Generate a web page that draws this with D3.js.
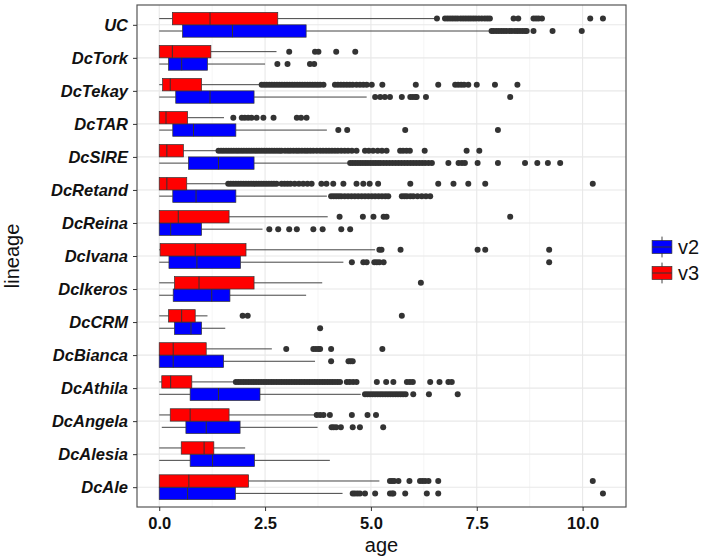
<!DOCTYPE html>
<html><head><meta charset="utf-8">
<script src="https://cdn.jsdelivr.net/npm/d3@7"></script>
<style>body{margin:0;background:#fff}svg{display:block}</style>
</head><body>
<script>
// ---------- DATA ----------
const categories = ["DcAle","DcAlesia","DcAngela","DcAthila","DcBianca","DcCRM","DcIkeros","DcIvana","DcReina","DcRetand","DcSIRE","DcTAR","DcTekay","DcTork","UC"];
const seriesNames = ["v2","v3"];
const xTicks = [0, 2.5, 5, 7.5, 10];
const xTickLabels = ["0.0","2.5","5.0","7.5","10.0"];
const xMinorTicks = [1.25, 3.75, 6.25, 8.75];

// v2 (blue)
const v2Low  = [0, 0, 0.06, 0, 0, 0, 0, 0, 0, 0, 0, 0, 0, 0, 0];
const v2Q1   = [0, 0.73, 0.63, 0.73, 0, 0.36, 0.33, 0.23, 0, 0.32, 0.69, 0.32, 0.39, 0.22, 0.55];
const v2Med  = [0.67, 1.26, 1.11, 1.40, 0.33, 0.75, 1.24, 0.89, 0.27, 0.87, 1.40, 0.81, 1.20, 0.53, 1.73];
const v2Q3   = [1.80, 2.25, 1.91, 2.38, 1.52, 1.00, 1.67, 1.92, 1.00, 1.81, 2.24, 1.81, 2.24, 1.14, 3.47];
const v2High = [4.33, 4.03, 3.74, 4.76, 3.68, 1.56, 3.47, 4.35, 2.44, 3.96, 4.51, 3.96, 4.90, 2.50, 7.85];
const v2Out = [
  [4.57,4.62,4.68,4.74,4.86,5.10,5.45,5.50,5.53,5.81,6.32,6.59,10.48],
  [],
  [4.07,4.12,4.18,4.29,4.57,4.74,5.29],
  [4.86,4.92,4.98,5.04,5.10,5.16,5.22,5.28,5.34,5.40,5.46,5.52,5.58,5.64,5.70,5.76,5.82,6.00,6.37,7.05],
  [4.06,4.47,4.52,4.57],
  [3.80],
  [],
  [4.55,4.82,4.90,5.08,5.14,5.20,5.30,9.21],
  [2.60,2.81,3.07,3.25,3.64,3.86,4.30,4.51],
  [4.06,4.12,4.18,4.24,4.30,4.38,4.46,4.54,4.62,4.70,4.78,4.86,4.94,5.02,5.10,5.18,5.26,5.34,5.41,5.73,5.79,5.85,5.93,6.00,6.10,6.20,6.30,6.40],
  [4.51,4.57,4.63,4.69,4.75,4.81,4.87,4.93,4.99,5.05,5.11,5.17,5.23,5.30,5.37,5.44,5.51,5.58,5.65,5.72,5.79,5.86,5.93,6.00,6.07,6.14,6.21,6.28,6.36,6.44,6.83,7.07,7.15,7.22,7.52,8.00,8.64,8.93,9.18,9.47],
  [4.23,4.44,5.81,8.00],
  [5.10,5.22,5.33,5.45,5.73,5.93,5.99,6.05,6.08,6.30,8.29],
  [2.79,3.03,3.56,3.66],
  [7.85,7.90,7.96,8.02,8.08,8.14,8.20,8.27,8.33,8.40,8.46,8.52,8.58,8.64,8.68,8.84,9.29,9.98]
];

// v3 (red)
const v3Low  = [0, 0, 0, 0, 0, 0, 0, 0, 0, 0, 0, 0, 0, 0, 0];
const v3Q1   = [0, 0.52, 0.26, 0.06, 0, 0.22, 0.36, 0.02, 0, 0, 0, 0, 0.08, 0, 0.31];
const v3Med  = [0.70, 1.06, 0.73, 0.27, 0.33, 0.53, 0.94, 0.85, 0.45, 0.18, 0.18, 0.16, 0.26, 0.31, 1.20];
const v3Q3   = [2.11, 1.29, 1.65, 0.77, 1.11, 0.85, 2.24, 2.05, 1.65, 0.65, 0.57, 0.67, 1.00, 1.22, 2.80];
const v3High = [5.20, 2.03, 3.68, 1.81, 2.66, 1.14, 3.85, 5.10, 3.98, 1.63, 1.40, 1.53, 2.38, 2.77, 6.52];
const v3Out = [
  [5.45,5.50,5.55,5.65,5.91,6.16,6.22,6.28,6.36,6.59,10.24],
  [],
  [3.72,3.80,3.88,4.03,4.55,4.92,5.12],
  [1.81,1.87,1.93,1.99,2.05,2.11,2.17,2.23,2.29,2.35,2.41,2.47,2.53,2.59,2.65,2.71,2.77,2.83,2.89,2.95,3.01,3.07,3.13,3.19,3.25,3.31,3.37,3.43,3.49,3.55,3.61,3.67,3.73,3.79,3.85,3.91,3.97,4.03,4.09,4.15,4.21,4.27,4.43,4.50,4.58,4.66,5.14,5.36,5.53,5.85,5.92,5.99,6.40,6.62,6.83,6.91],
  [3.00,3.64,3.70,3.76,3.80,4.06,5.27],
  [1.97,2.09,5.73],
  [6.18],
  [5.20,5.25,5.70,7.52,7.70,9.21],
  [4.26,4.81,5.06,5.30,5.37,8.29],
  [1.63,1.69,1.75,1.81,1.87,1.93,1.99,2.05,2.11,2.17,2.23,2.29,2.35,2.41,2.47,2.53,2.59,2.65,2.71,2.77,2.89,2.96,3.03,3.10,3.20,3.30,3.40,3.50,3.60,3.83,3.95,4.11,4.35,4.66,4.82,4.97,5.17,5.93,6.59,6.95,7.30,7.70,10.24],
  [1.40,1.46,1.52,1.58,1.64,1.70,1.76,1.82,1.88,1.94,2.00,2.06,2.12,2.18,2.24,2.30,2.36,2.42,2.48,2.54,2.60,2.66,2.72,2.78,2.84,2.89,2.97,3.04,3.10,3.17,3.24,3.30,3.37,3.44,3.50,3.57,3.64,3.72,3.80,3.87,3.94,4.01,4.08,4.15,4.22,4.30,4.38,4.46,4.55,4.66,4.86,4.95,5.05,5.16,5.26,5.37,5.69,5.76,5.84,5.92,6.27,7.26,7.56],
  [1.75,1.95,2.02,2.10,2.18,2.30,2.46,2.70,3.25,3.35,3.48],
  [2.42,2.48,2.54,2.60,2.66,2.72,2.78,2.84,2.90,2.96,3.02,3.08,3.14,3.20,3.26,3.32,3.38,3.44,3.50,3.56,3.62,3.68,3.74,3.80,3.88,4.15,4.22,4.29,4.36,4.43,4.50,4.57,4.66,4.74,4.82,4.90,5.02,5.27,6.06,6.59,6.99,7.06,7.13,7.20,7.30,7.50,7.93,8.46],
  [3.07,3.68,3.76,4.18,4.63],
  [6.56,6.75,6.81,6.87,6.93,6.99,7.05,7.12,7.18,7.24,7.30,7.36,7.42,7.48,7.55,7.62,7.69,7.75,7.81,8.37,8.48,8.84,8.90,8.96,9.04,10.18,10.48]
];

// ---------- CHART ----------
const W = 704, H = 559;
const panel = {left: 137, right: 626, top: 5, bottom: 507};
const colors = {v2: "#0000FF", v3: "#FF0000"};
const font = "'Liberation Sans', Arial, Helvetica, sans-serif";

const svg = d3.select("body").append("svg").attr("width", W).attr("height", H)
  .style("font-family", font);

const x = d3.scaleLinear().domain([-0.525, 11.025]).range([panel.left, panel.right]);
const y = d3.scalePoint().domain(categories.slice().reverse()).range([panel.top, panel.bottom]).padding(0.6);
const step = y.step();
const boxH = step * 0.375;
const dodge = d3.scaleBand().domain(["v3","v2"]).range([-step*0.375, step*0.375]);

// grid
const g = svg.append("g");
g.selectAll(".minor").data(xMinorTicks).join("line")
  .attr("x1", d => x(d)).attr("x2", d => x(d))
  .attr("y1", panel.top).attr("y2", panel.bottom)
  .attr("stroke", "#f3f3f3").attr("stroke-width", 0.8);
g.selectAll(".major").data(xTicks).join("line")
  .attr("x1", d => x(d)).attr("x2", d => x(d))
  .attr("y1", panel.top).attr("y2", panel.bottom)
  .attr("stroke", "#e8e8e8").attr("stroke-width", 1.1);
g.selectAll(".hmajor").data(categories).join("line")
  .attr("x1", panel.left).attr("x2", panel.right)
  .attr("y1", d => y(d)).attr("y2", d => y(d))
  .attr("stroke", "#e8e8e8").attr("stroke-width", 1.1);

// build rows
const rows = [];
categories.forEach((c, i) => {
  rows.push({cat: c, s: "v2", lo: v2Low[i], q1: v2Q1[i], med: v2Med[i], q3: v2Q3[i], hi: v2High[i], out: v2Out[i]});
  rows.push({cat: c, s: "v3", lo: v3Low[i], q1: v3Q1[i], med: v3Med[i], q3: v3Q3[i], hi: v3High[i], out: v3Out[i]});
});
const cy = d => y(d.cat) + dodge(d.s) + dodge.bandwidth()/2;

const bx = svg.append("g");
// whiskers
bx.selectAll(".wl").data(rows).join("line")
  .attr("x1", d => x(d.lo)).attr("x2", d => x(d.q1))
  .attr("y1", cy).attr("y2", cy).attr("stroke", "#444").attr("stroke-width", 1);
bx.selectAll(".wh").data(rows).join("line")
  .attr("x1", d => x(d.q3)).attr("x2", d => x(d.hi))
  .attr("y1", cy).attr("y2", cy).attr("stroke", "#444").attr("stroke-width", 1);
// outliers
rows.forEach(r => {
  bx.selectAll(null).data(r.out).join("circle")
    .attr("cx", v => x(v)).attr("cy", cy(r)).attr("r", 3)
    .attr("fill", "#333");
});
// boxes
bx.selectAll(".box").data(rows).join("rect")
  .attr("x", d => x(d.q1)).attr("width", d => x(d.q3) - x(d.q1))
  .attr("y", d => cy(d) - boxH/2).attr("height", boxH)
  .attr("fill", d => colors[d.s]).attr("stroke", "#333").attr("stroke-width", 0.7);
bx.selectAll(".med").data(rows).join("line")
  .attr("x1", d => x(d.med)).attr("x2", d => x(d.med))
  .attr("y1", d => cy(d) - boxH/2).attr("y2", d => cy(d) + boxH/2)
  .attr("stroke", "#333").attr("stroke-width", 1);

// panel border
svg.append("rect").attr("x", panel.left).attr("y", panel.top)
  .attr("width", panel.right - panel.left).attr("height", panel.bottom - panel.top)
  .attr("fill", "none").attr("stroke", "#555").attr("stroke-width", 1.2);

// axes
const xAxis = d3.axisBottom(x).tickValues(xTicks).tickFormat((d, i) => xTickLabels[i]).tickSize(4).tickPadding(6);
const xa = svg.append("g").attr("transform", `translate(0,${panel.bottom})`).call(xAxis);
xa.select(".domain").remove();
xa.selectAll("line").attr("stroke", "#333");
xa.selectAll("text").attr("font-family", font).attr("font-size", "16.5px").attr("font-weight", "bold").attr("fill", "#111");

const yAxis = d3.axisLeft(y).tickSize(4).tickPadding(5);
const ya = svg.append("g").attr("transform", `translate(${panel.left},0)`).call(yAxis);
ya.select(".domain").remove();
ya.selectAll("line").attr("stroke", "#333");
ya.selectAll("text").attr("font-family", font).attr("font-size", "16.5px").attr("font-weight", "bold")
  .attr("font-style", "italic").attr("fill", "#111");

// axis titles
svg.append("text").attr("x", (panel.left + panel.right)/2).attr("y", 552)
  .attr("text-anchor", "middle").attr("font-size", "20px").attr("fill", "#111").text("age");
svg.append("text").attr("transform", `translate(19,${(panel.top + panel.bottom)/2}) rotate(-90)`)
  .attr("text-anchor", "middle").attr("font-size", "20px").attr("fill", "#111").text("lineage");

// legend
const leg = svg.append("g").attr("transform", "translate(651,234)");
const keyH = 26, keyW = 22;
seriesNames.forEach((s, i) => {
  const k = leg.append("g").attr("transform", `translate(0,${i*keyH})`);
  k.append("line").attr("x1", keyW/2).attr("x2", keyW/2).attr("y1", keyH*0.1).attr("y2", keyH*0.9)
    .attr("stroke", "#444").attr("stroke-width", 1);
  k.append("rect").attr("x", keyW*0.05).attr("width", keyW*0.9).attr("y", keyH*0.25).attr("height", keyH*0.5)
    .attr("fill", colors[s]).attr("stroke", "#333").attr("stroke-width", 0.7);
  k.append("line").attr("x1", keyW*0.05).attr("x2", keyW*0.95).attr("y1", keyH/2).attr("y2", keyH/2)
    .attr("stroke", "#333").attr("stroke-width", 1);
  k.append("text").attr("x", keyW + 5).attr("y", keyH/2).attr("dy", "0.36em")
    .attr("font-size", "20px").attr("fill", "#111").text(s);
});
</script>
</body></html>
